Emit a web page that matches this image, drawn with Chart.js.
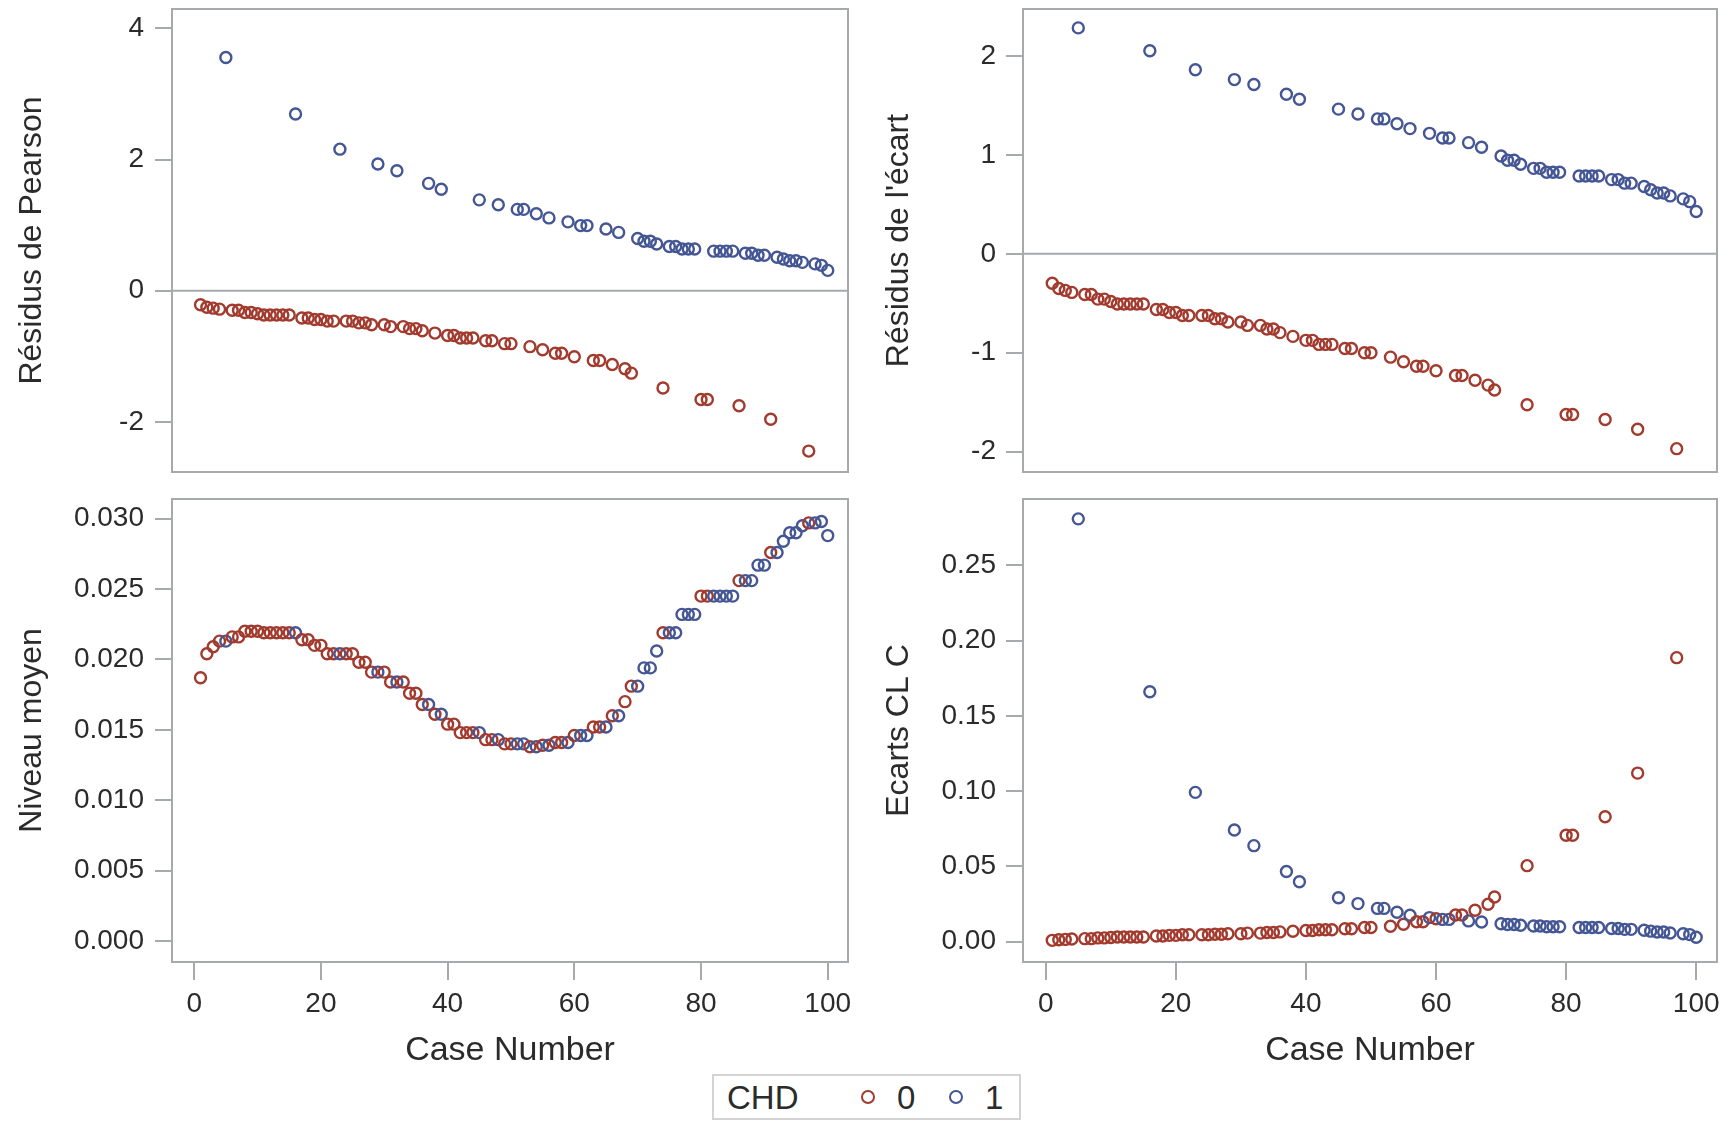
<!DOCTYPE html>
<html>
<head>
<meta charset="utf-8">
<script src="https://cdn.jsdelivr.net/npm/chart.js@4.4.1/dist/chart.umd.min.js"></script>
<style>
  body { margin: 0; background: #fff; width: 1729px; height: 1123px; position: relative; overflow: hidden;
         font-family: "Liberation Sans", Arial, sans-serif; color: #2b2b2b; }
  canvas { position: absolute; }
  #legend { position: absolute; left: 712px; top: 1074px; width: 305px; height: 42px;
            border: 2px solid #d3d3d3; background: #fff; font-size: 33px; }
  #legend span { position: absolute; top: 50%; transform: translateY(-50%); line-height: 1; }
  #legend .mark { width: 10px; height: 10px; border: 2px solid; border-radius: 50%; }
</style>
</head>
<body>
<canvas id="pearsonChart" width="860" height="480" style="left:0;top:0"></canvas>
<canvas id="devianceChart" width="869" height="480" style="left:860px;top:0"></canvas>
<canvas id="leverageChart" width="860" height="633" style="left:0;top:490px"></canvas>
<canvas id="cChart" width="869" height="633" style="left:860px;top:490px"></canvas>
<div id="legend"></div>

<script>
'use strict';

// case numbers and CHD group of each case
const caseNumber = [
  1, 2, 3, 4, 5, 6, 7, 8, 9, 10, 11, 12, 13, 14, 15, 16, 17, 18, 19, 20,
  21, 22, 23, 24, 25, 26, 27, 28, 29, 30, 31, 32, 33, 34, 35, 36, 37, 38, 39, 40,
  41, 42, 43, 44, 45, 46, 47, 48, 49, 50, 51, 52, 53, 54, 55, 56, 57, 58, 59, 60,
  61, 62, 63, 64, 65, 66, 67, 68, 69, 70, 71, 72, 73, 74, 75, 76, 77, 78, 79, 80,
  81, 82, 83, 84, 85, 86, 87, 88, 89, 90, 91, 92, 93, 94, 95, 96, 97, 98, 99, 100];
const chd = [
  0,0,0,0,1,0,0,0,0,0, 0,0,0,0,0,1,0,0,0,0, 0,0,1,0,0,0,0,0,1,0, 0,1,0,0,0,0,1,0,1,0,
  0,0,0,0,1,0,0,1,0,0, 1,1,0,1,0,1,0,0,1,0, 1,1,0,0,1,0,1,0,0,1, 1,1,1,0,1,1,1,1,1,0,
  0,1,1,1,1,0,1,1,1,1, 0,1,1,1,1,1,0,1,1,1];

const pearson = [
  -0.213,-0.252,-0.266,-0.281,3.556,-0.297,-0.297,-0.332,-0.332,-0.351,
  -0.371,-0.371,-0.371,-0.371,-0.371,2.695,-0.415,-0.415,-0.438,-0.438,
  -0.463,-0.463,2.158,-0.463,-0.463,-0.490,-0.490,-0.518,1.932,-0.518,
  -0.547,1.828,-0.547,-0.578,-0.578,-0.611,1.636,-0.646,1.548,-0.683,
  -0.683,-0.722,-0.722,-0.722,1.385,-0.763,-0.763,1.310,-0.807,-0.807,
  1.240,1.240,-0.853,1.173,-0.901,1.110,-0.953,-0.953,1.050,-1.007,
  0.993,0.993,-1.064,-1.064,0.940,-1.125,0.889,-1.189,-1.257,0.796,
  0.753,0.753,0.712,-1.484,0.674,0.674,0.637,0.637,0.637,-1.659,
  -1.659,0.603,0.603,0.603,0.603,-1.753,0.570,0.570,0.540,0.540,
  -1.959,0.511,0.483,0.457,0.457,0.432,-2.445,0.409,0.387,0.310];

const deviance = [
  -0.298,-0.351,-0.370,-0.390,2.286,-0.412,-0.412,-0.458,-0.458,-0.482,
  -0.508,-0.508,-0.508,-0.508,-0.508,2.055,-0.563,-0.563,-0.593,-0.593,
  -0.624,-0.624,1.862,-0.624,-0.624,-0.656,-0.656,-0.689,1.763,-0.689,
  -0.724,1.713,-0.724,-0.760,-0.760,-0.797,1.614,-0.835,1.564,-0.875,
  -0.875,-0.916,-0.916,-0.916,1.464,-0.958,-0.958,1.414,-1.001,-1.001,
  1.365,1.365,-1.045,1.316,-1.091,1.267,-1.137,-1.137,1.219,-1.183,
  1.172,1.172,-1.231,-1.231,1.125,-1.279,1.079,-1.328,-1.377,0.990,
  0.947,0.947,0.906,-1.526,0.865,0.865,0.826,0.826,0.826,-1.626,
  -1.626,0.788,0.788,0.788,0.788,-1.676,0.751,0.751,0.715,0.715,
  -1.775,0.681,0.648,0.616,0.616,0.586,-1.971,0.556,0.528,0.428];

const leverage = [
  0.0187,0.0204,0.0209,0.0213,0.0213,0.0216,0.0216,0.0220,0.0220,0.0220,
  0.0219,0.0219,0.0219,0.0219,0.0219,0.0219,0.0214,0.0214,0.0210,0.0210,
  0.0204,0.0204,0.0204,0.0204,0.0204,0.0198,0.0198,0.0191,0.0191,0.0191,
  0.0184,0.0184,0.0184,0.0176,0.0176,0.0168,0.0168,0.0161,0.0161,0.0154,
  0.0154,0.0148,0.0148,0.0148,0.0148,0.0143,0.0143,0.0143,0.0140,0.0140,
  0.0140,0.0140,0.0138,0.0138,0.0139,0.0139,0.0141,0.0141,0.0141,0.0146,
  0.0146,0.0146,0.0152,0.0152,0.0152,0.0160,0.0160,0.0170,0.0181,0.0181,
  0.0194,0.0194,0.0206,0.0219,0.0219,0.0219,0.0232,0.0232,0.0232,0.0245,
  0.0245,0.0245,0.0245,0.0245,0.0245,0.0256,0.0256,0.0256,0.0267,0.0267,
  0.0276,0.0276,0.0284,0.0290,0.0290,0.0295,0.0297,0.0297,0.0298,0.0288];

const cDispl = [
  0.0009,0.0013,0.0015,0.0018,0.2809,0.0020,0.0020,0.0025,0.0025,0.0028,
  0.0031,0.0031,0.0031,0.0031,0.0031,0.1660,0.0038,0.0038,0.0042,0.0042,
  0.0046,0.0046,0.0992,0.0046,0.0046,0.0049,0.0049,0.0053,0.0742,0.0053,
  0.0057,0.0638,0.0057,0.0061,0.0061,0.0065,0.0466,0.0069,0.0398,0.0074,
  0.0074,0.0079,0.0079,0.0079,0.0292,0.0086,0.0086,0.0253,0.0094,0.0094,
  0.0221,0.0221,0.0103,0.0196,0.0116,0.0176,0.0132,0.0132,0.0160,0.0152,
  0.0148,0.0148,0.0177,0.0177,0.0138,0.0209,0.0131,0.0249,0.0297,0.0119,
  0.0114,0.0114,0.0109,0.0505,0.0104,0.0104,0.0099,0.0099,0.0099,0.0707,
  0.0707,0.0094,0.0094,0.0094,0.0094,0.0830,0.0088,0.0088,0.0082,0.0082,
  0.1120,0.0076,0.0070,0.0064,0.0064,0.0058,0.1887,0.0053,0.0047,0.0029];

const xTicks = [0, 20, 40, 60, 80, 100];
const pearsonTicks = [-2, 0, 2, 4];
const devianceTicks = [-2, -1, 0, 1, 2];
const leverageTicks = [0, 0.005, 0.010, 0.015, 0.020, 0.025, 0.030];
const cTicks = [0, 0.05, 0.10, 0.15, 0.20, 0.25];

const groupLabels = ['0', '1'];
const groupColors = ['#a23a2e', '#445694'];
const frameColor = '#a6aaad';
const textColor = '#2b2b2b';
const family = '"Liberation Sans", Arial, sans-serif';

Chart.defaults.font.family = family;
Chart.defaults.color = textColor;

// frame around the plot area, plus optional reference line
const framePlugin = {
  id: 'frame',
  beforeDatasetsDraw(chart, args, opts) {
    if (opts.refLine === undefined) return;
    const {ctx, chartArea: a, scales: {y}} = chart;
    const py = y.getPixelForValue(opts.refLine);
    ctx.save();
    ctx.strokeStyle = frameColor;
    ctx.lineWidth = 2;
    ctx.beginPath();
    ctx.moveTo(a.left, py);
    ctx.lineTo(a.right, py);
    ctx.stroke();
    ctx.restore();
  },
  afterDraw(chart) {
    const {ctx, chartArea: a} = chart;
    ctx.save();
    ctx.strokeStyle = frameColor;
    ctx.lineWidth = 2;
    ctx.strokeRect(a.left, a.top, a.right - a.left, a.bottom - a.top);
    ctx.restore();
  }
};

function makePanel(id, values, p) {
  const points = caseNumber.map((c, i) => ({x: c, y: values[i]}));
  const showX = p.showX;
  new Chart(document.getElementById(id), {
    type: 'scatter',
    data: {
      datasets: [{
        data: points,
        pointStyle: 'circle',
        pointRadius: 5.5,
        pointBorderWidth: 2.4,
        pointBackgroundColor: 'rgba(0,0,0,0)',
        pointBorderColor: chd.map(g => groupColors[g])
      }]
    },
    plugins: [framePlugin],
    options: {
      responsive: false,
      animation: false,
      devicePixelRatio: 1,
      layout: {padding: {top: 9, bottom: showX ? 0 : 8, left: 0, right: 12}},
      plugins: {legend: {display: false}, tooltip: {enabled: false}, frame: {refLine: p.refLine}},
      scales: {
        x: {
          type: 'linear', min: -3.5, max: 103.2, display: showX,
          afterBuildTicks: s => { s.ticks = xTicks.map(v => ({value: v})); },
          afterFit: s => {
            if (showX) s.height = 161;
            s.paddingLeft = 0;
            s.paddingRight = 0;
          },
          grid: {drawOnChartArea: false, color: frameColor, lineWidth: 2, tickLength: 18},
          border: {display: false},
          ticks: {font: {size: 28}, padding: 7, maxRotation: 0},
          title: {display: true, text: 'Case Number', font: {size: 34}, padding: {top: 0, bottom: 52}}
        },
        y: {
          type: 'linear', min: p.min, max: p.max,
          afterBuildTicks: s => { s.ticks = p.ticks.map(v => ({value: v})); },
          afterFit: s => { s.width = p.axisW; s.paddingTop = 0; s.paddingBottom = 0; },
          grid: {drawOnChartArea: false, color: frameColor, lineWidth: 2, tickLength: 17},
          border: {display: false},
          ticks: {font: {size: 28}, padding: p.tickPad, callback: v => v.toFixed(p.dec)},
          title: {display: true, text: p.title, font: {size: 32}, padding: {top: p.titlePad, bottom: 0}}
        }
      }
    }
  });
}

makePanel('pearsonChart', pearson, {
  min: -2.764, max: 4.295, ticks: pearsonTicks, dec: 0, title: 'Résidus de Pearson',
  axisW: 172, tickPad: 11, titlePad: 13, refLine: 0, showX: false});
makePanel('devianceChart', deviance, {
  min: -2.207, max: 2.477, ticks: devianceTicks, dec: 0, title: "Résidus de l'écart",
  axisW: 163, tickPad: 10, titlePad: 20, refLine: 0, showX: false});
makePanel('leverageChart', leverage, {
  min: -0.0015, max: 0.0314, ticks: leverageTicks, dec: 3, title: 'Niveau moyen',
  axisW: 172, tickPad: 11, titlePad: 13, showX: true});
makePanel('cChart', cDispl, {
  min: -0.0135, max: 0.2941, ticks: cTicks, dec: 2, title: 'Ecarts CL C',
  axisW: 163, tickPad: 10, titlePad: 20, showX: true});

// legend
const legend = document.getElementById('legend');
const items = [['CHD', 13, null], [null, 147, 0], [groupLabels[0], 183, null], [null, 235, 1], [groupLabels[1], 271, null]];
items.forEach(([text, left, g]) => {
  const s = document.createElement('span');
  s.style.left = left + 'px';
  if (g !== null) {
    s.className = 'mark';
    s.style.borderColor = groupColors[g];
  } else {
    s.textContent = text;
  }
  legend.appendChild(s);
});
</script>
</body>
</html>
